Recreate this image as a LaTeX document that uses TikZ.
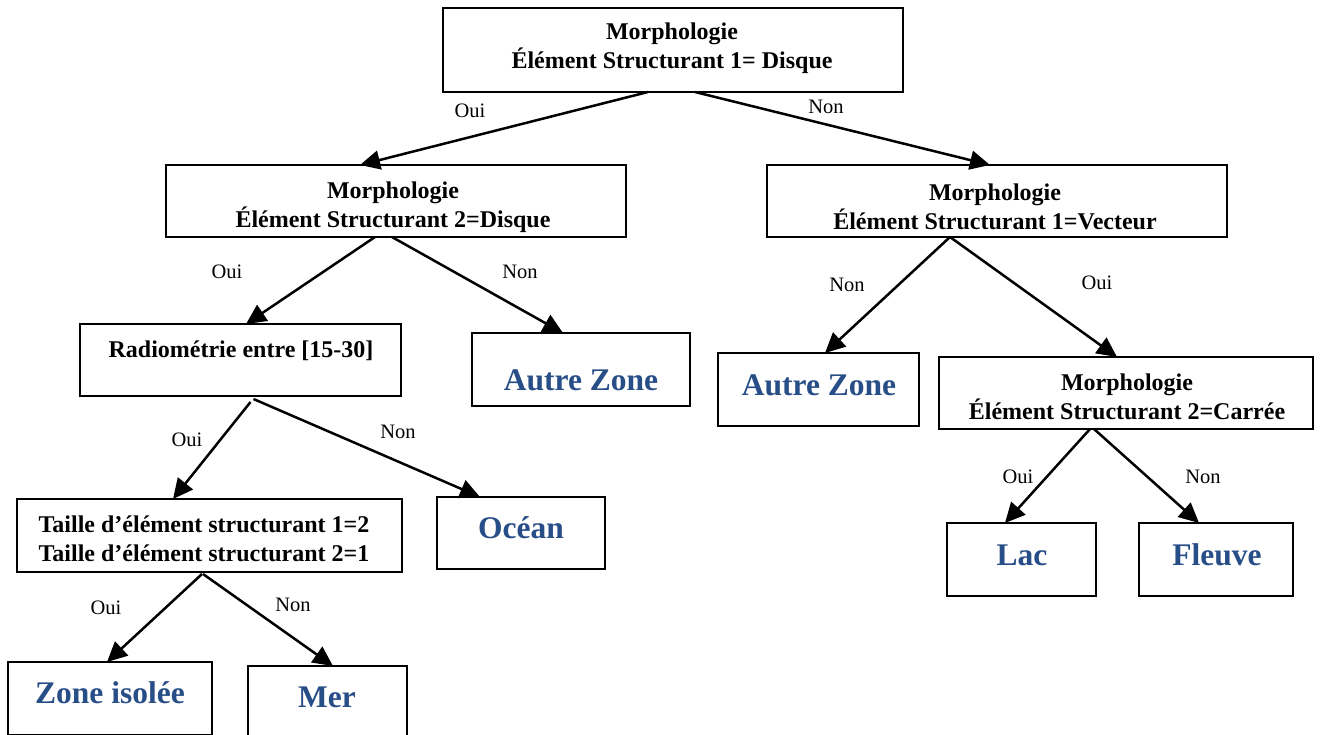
\documentclass[tikz,border=0pt]{standalone}
\usepackage{fontspec}
\setmainfont{Liberation Serif}
\usetikzlibrary{arrows.meta}
\definecolor{leafblue}{RGB}{40,78,135}
\tikzset{
  box/.style={draw, line width=1.9pt, inner sep=0pt, outer sep=0pt},
  qtext/.style={font=\bfseries\fontsize{24}{29}\selectfont, align=center, inner sep=0pt},
  leaf/.style={font=\bfseries\fontsize{31.5}{36}\selectfont, text=leafblue, inner sep=0pt},
  lab/.style={font=\fontsize{20.5}{24}\selectfont, inner sep=0pt},
  arr/.style={line width=2.5pt, -{Triangle[length=20pt,width=19pt]}},
}
\begin{document}
\begin{tikzpicture}[x=1pt,y=-1pt]
\useasboundingbox[fill=white] (0,0) rectangle (1321,735);

% boxes
\node[box, minimum width=460pt, minimum height=84pt] (root) at (673,50) {};
\node[box, minimum width=460pt, minimum height=72pt] (dsk) at (396,201) {};
\node[box, minimum width=460pt, minimum height=72pt] (vec) at (997,201) {};
\node[box, minimum width=321pt, minimum height=72pt] (rad) at (240.5,360) {};
\node[box, minimum width=218pt, minimum height=73pt] (azA) at (581,369.5) {};
\node[box, minimum width=201pt, minimum height=73pt] (azB) at (818.5,389.5) {};
\node[box, minimum width=374pt, minimum height=72pt] (car) at (1126,393) {};
\node[box, minimum width=385pt, minimum height=73pt] (tai) at (209.5,535.5) {};
\node[box, minimum width=168pt, minimum height=72pt] (oce) at (521,533) {};
\node[box, minimum width=149pt, minimum height=73pt] (lac) at (1021.5,559.5) {};
\node[box, minimum width=154pt, minimum height=73pt] (flv) at (1216,559.5) {};
\node[box, minimum width=204pt, minimum height=73pt] (zis) at (110,698.5) {};
\node[box, minimum width=159pt, minimum height=73pt] (mer) at (327.5,702.5) {};

% box texts
\node[qtext] (t-root) at (672,48) {Morphologie\\Élément Structurant 1= Disque};
\node[qtext] (t-dsk) at (393,207) {Morphologie\\Élément Structurant 2=Disque};
\node[qtext] (t-vec) at (995,207) {Morphologie\\Élément Structurant 1=Vecteur};
\node[qtext] (t-rad) at (241,351) {Radiométrie entre [15-30]};
\node[qtext] (t-car) at (1127,397) {Morphologie\\Élément Structurant 2=Carrée};
\node[qtext] (t-tai) at (204,538.5) {Taille d’élément structurant 1=2\\Taille d’élément structurant 2=1};
\node[leaf] (t-azA) at (581,380) {Autre Zone};
\node[leaf] (t-azB) at (819,385) {Autre Zone};
\node[leaf] (t-oce) at (521,528) {Océan};
\node[leaf] (t-lac) at (1022,555) {Lac};
\node[leaf] (t-flv) at (1217,555) {Fleuve};
\node[leaf] (t-zis) at (110,693) {Zone isolée};
\node[leaf] (t-mer) at (327,697) {Mer};

% connectors
\draw[arr] ([xshift=-25pt]root.south) -- ([xshift=-36pt]dsk.north);
\draw[arr] ([xshift=22pt]root.south) -- ([xshift=-7pt]vec.north);
\draw[arr] ([xshift=-21pt]dsk.south) -- ([xshift=5.5pt]rad.north);
\draw[arr] ([xshift=-4pt]dsk.south) -- ([xshift=-18pt]azA.north);
\draw[arr] ([xshift=-47pt]vec.south) -- ([xshift=6.5pt]azB.north);
\draw[arr] ([xshift=-47pt]vec.south) -- ([xshift=-9pt]car.north);
\draw[arr] ([xshift=10pt,yshift=-6pt]rad.south) -- ([xshift=-36.5pt]tai.north);
\draw[arr] ([xshift=13pt,yshift=-3pt]rad.south) -- ([xshift=-41pt]oce.north);
\draw[arr] ([xshift=-36pt]car.south) -- ([xshift=-16.5pt]lac.north);
\draw[arr] ([xshift=-32pt]car.south) -- ([xshift=-17pt]flv.north);
\draw[arr] ([xshift=-7.5pt,yshift=-2pt]tai.south) -- ([xshift=-3pt]zis.north);
\draw[arr] ([xshift=-6.5pt,yshift=-2pt]tai.south) -- ([xshift=5.5pt]mer.north);

% branch labels
\node[lab] (l1) at (470,111) {Oui};
\node[lab] (l2) at (826,107) {Non};
\node[lab] (l3) at (227,272) {Oui};
\node[lab] (l4) at (520,272) {Non};
\node[lab] (l5) at (847,285) {Non};
\node[lab] (l6) at (1097,283) {Oui};
\node[lab] (l7) at (187,440) {Oui};
\node[lab] (l8) at (398,432) {Non};
\node[lab] (l9) at (1018,477) {Oui};
\node[lab] (l10) at (1203,477) {Non};
\node[lab] (l11) at (106,608) {Oui};
\node[lab] (l12) at (293,605) {Non};
\end{tikzpicture}
\end{document}
